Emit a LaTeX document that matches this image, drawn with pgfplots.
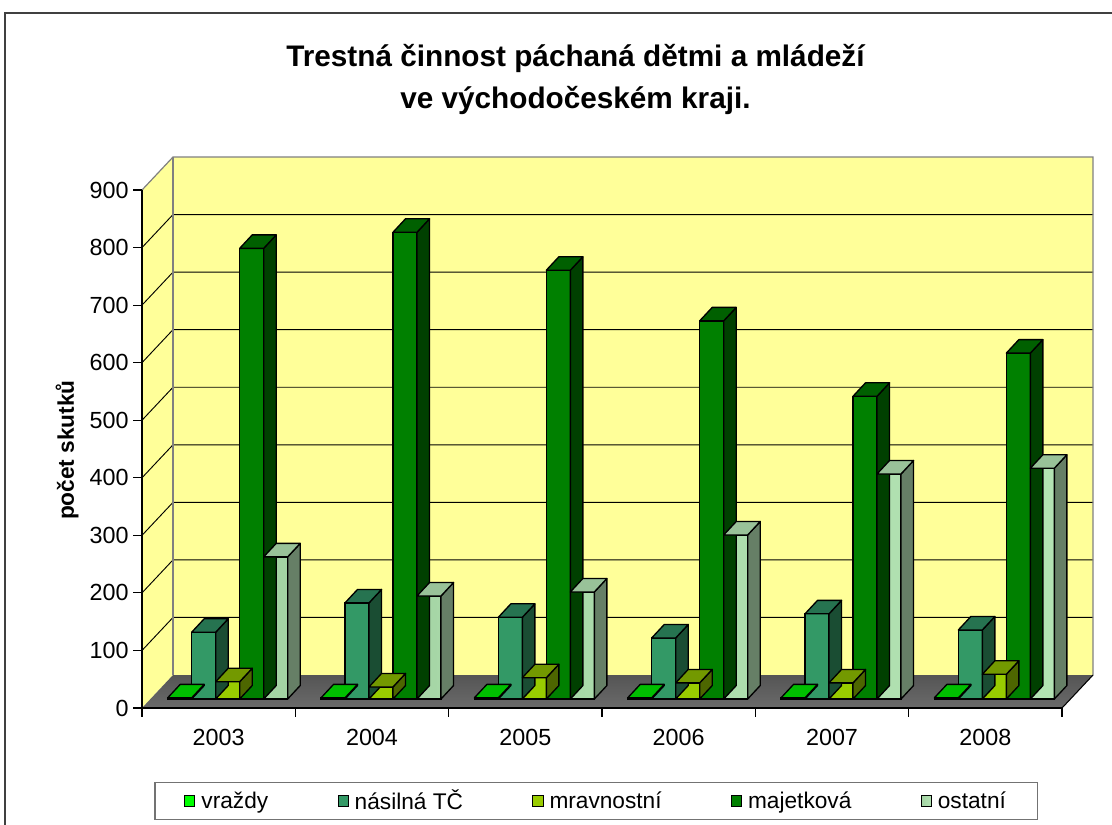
\documentclass[border=0pt]{standalone}
\usepackage{fontspec}
\setmainfont{Liberation Sans}
\usepackage{pgfplots}
\usepackage{pgfplotstable}
\pgfplotsset{compat=1.18}
\definecolor{wall}{HTML}{FFFF99}
\definecolor{vrF}{HTML}{00FF00}\definecolor{vrT}{HTML}{00BF00}\definecolor{vrS}{HTML}{008000}
\definecolor{naF}{HTML}{339966}\definecolor{naT}{HTML}{267350}\definecolor{naS}{HTML}{1A4D33}
\definecolor{mrF}{HTML}{99CC00}\definecolor{mrT}{HTML}{739900}\definecolor{mrS}{HTML}{4D6600}
\definecolor{maF}{HTML}{008000}\definecolor{maT}{HTML}{006000}\definecolor{maS}{HTML}{004000}
\definecolor{osF}{HTML}{CCFFCC}\definecolor{osL}{HTML}{A3D3A3}\definecolor{osR}{HTML}{B3E3B3}
\definecolor{osT}{HTML}{99C299}\definecolor{osS}{HTML}{667F66}
\definecolor{floorA}{HTML}{555555}\definecolor{floorB}{HTML}{A8A8A8}\definecolor{floorC}{HTML}{6A6A6A}
\pgfdeclareplotmark{empty}{}
\pgfplotstableread{
x vr na mr ma os
0 2 116 30 783 247
1 2 167 21 811 179
2 2 142 37 745 186
3 2 106 28 657 285
4 2 148 28 526 391
5 2 120 43 601 401
}\data
\pgfplotsset{
  face3d/.style n args={3}{
    scatter, only marks, mark=empty, forget plot,
    visualization depends on={rawy \as \val},
    scatter/@pre marker code/.code={%
      \pgfmathsetmacro\h{\val*0.431667}%
      \filldraw[fill=#3, draw=black, line width=1pt, line join=round]
        ({#1+9pt},0pt) -- ({#1+18.4pt},10.1pt) -- ({#1+18.4pt},{10.1pt-\h pt}) -- ({#1+9pt},{-\h pt}) -- cycle;
      \filldraw[fill=#2, draw=black, line width=1pt, line join=round]
        ({#1-9pt},0pt) -- ({#1+9pt},0pt) -- ({#1+18.4pt},10.1pt) -- ({#1+0.4pt},10.1pt) -- cycle;
    },
    scatter/@post marker code/.code={},
  },
  frontbar/.style={ybar, bar width=18pt, bar shift=#1, draw=black, line width=1pt},
}
\begin{document}
\begin{tikzpicture}
\useasboundingbox (0,0) rectangle (834pt,-618pt);
% chart border
\draw[line width=1.2pt, color=black!75] (3.75pt,-700pt) -- (3.75pt,-9.75pt) -- (900pt,-9.75pt);
% title
\node[font=\bfseries\fontsize{22.3}{26}\selectfont] at (431.6pt,-43.5pt) {Trestná činnost páchaná dětmi a mládeží};
\node[font=\bfseries\fontsize{22.3}{26}\selectfont] at (431.6pt,-75pt) {ve východočeském kraji.};
% frame axis (walls, floor, ticks)
\begin{axis}[
  at={(106.5pt,-531pt)}, anchor=south west,
  scale only axis, width=690pt, height=388.5pt,
  xmin=-0.5, xmax=5.5, ymin=0, ymax=900, clip=false,
  axis on top,
  axis lines*=left, axis line style={black, line width=0.8pt},
  ytick={0,100,...,900},
  xtick={-0.5,0.5,...,5.5},
  x tick label as interval,
  xticklabels={2003,2004,2005,2006,2007,2008},
  tick align=outside, major tick length=6.5pt,
  tick style={black, line width=0.8pt},
  /pgf/number format/assume math mode=true,
  ticklabel style={font=\fontsize{17.5}{20}\selectfont},
  xticklabel style={yshift=-6pt},
  ylabel={počet skutků},
  ylabel style={at={(axis description cs:-0.0815,0.498)}, anchor=center, font=\bfseries\fontsize{17}{20}\selectfont},
]
\fill[wall] (axis cs:-0.2978,57.34) rectangle (axis cs:5.7022,957.34);
\fill[wall] (axis cs:-0.5,0) -- (axis cs:-0.2978,57.34) -- (axis cs:-0.2978,957.34) -- (axis cs:-0.5,900) -- cycle;
\pgfplotsinvokeforeach{100,200,...,800}{
  \draw[black, line width=0.7pt] (axis cs:-0.5,#1) -- (axis cs:-0.2978,#1+57.34) -- (axis cs:5.7022,#1+57.34);
}
\draw[black!50, line width=0.9pt] (axis cs:-0.5,900) -- (axis cs:-0.2978,957.34) -- (axis cs:5.7022,957.34) -- (axis cs:5.7022,57.34);
\draw[black!50, line width=0.9pt] (axis cs:-0.2978,57.34) -- (axis cs:-0.2978,957.34);
\shade[top color=floorA, middle color=floorB, bottom color=floorC]
  (axis cs:-0.5,0) -- (axis cs:5.5,0) -- (axis cs:5.7022,57.34) -- (axis cs:-0.2978,57.34) -- cycle;
\draw[black, line width=0.8pt] (axis cs:5.5,0) -- (axis cs:5.7022,57.34);
\end{axis}
% bars axis
\begin{axis}[
  at={(113.25pt,-524.25pt)}, anchor=south west,
  scale only axis, width=690pt, height=388.5pt,
  xmin=-0.5, xmax=5.5, ymin=0, ymax=900, clip=false,
  hide axis,
  legend columns=5,
  legend style={at={(0.4842,-0.1969)}, anchor=center, draw=black!55, line width=0.8pt,
    font=\fontsize{17}{20}\selectfont, inner xsep=22pt, inner ysep=4pt,
    /tikz/every even column/.append style={column sep=50pt}},
  legend image code/.code={\draw[#1, draw=black, line width=0.7pt] (0pt,-3.8pt) rectangle (7.6pt,3.8pt); \path (10pt,0pt);},
]
\addplot[frontbar=-36pt, fill=vrF] table[x=x,y=vr]{\data};
\addlegendentry{vraždy}
\addplot[face3d={-36pt}{vrT}{vrS}] table[x=x,y=vr]{\data};
\addplot[frontbar=-18pt, fill=naF] table[x=x,y=na]{\data};
\addlegendentry{násilná TČ}
\addplot[face3d={-18pt}{naT}{naS}] table[x=x,y=na]{\data};
\addplot[frontbar=0pt, fill=mrF] table[x=x,y=mr]{\data};
\addlegendentry{mravnostní}
\addplot[face3d={0pt}{mrT}{mrS}] table[x=x,y=mr]{\data};
\addplot[frontbar=18pt, fill=maF] table[x=x,y=ma]{\data};
\addlegendentry{majetková}
\addplot[face3d={18pt}{maT}{maS}] table[x=x,y=ma]{\data};
\addplot[frontbar=36pt, left color=osL, middle color=osF, right color=osR, draw=black] table[x=x,y=os]{\data};
\addlegendentry{ostatní}
\addplot[face3d={36pt}{osT}{osS}] table[x=x,y=os]{\data};
\end{axis}
\end{tikzpicture}
\end{document}
